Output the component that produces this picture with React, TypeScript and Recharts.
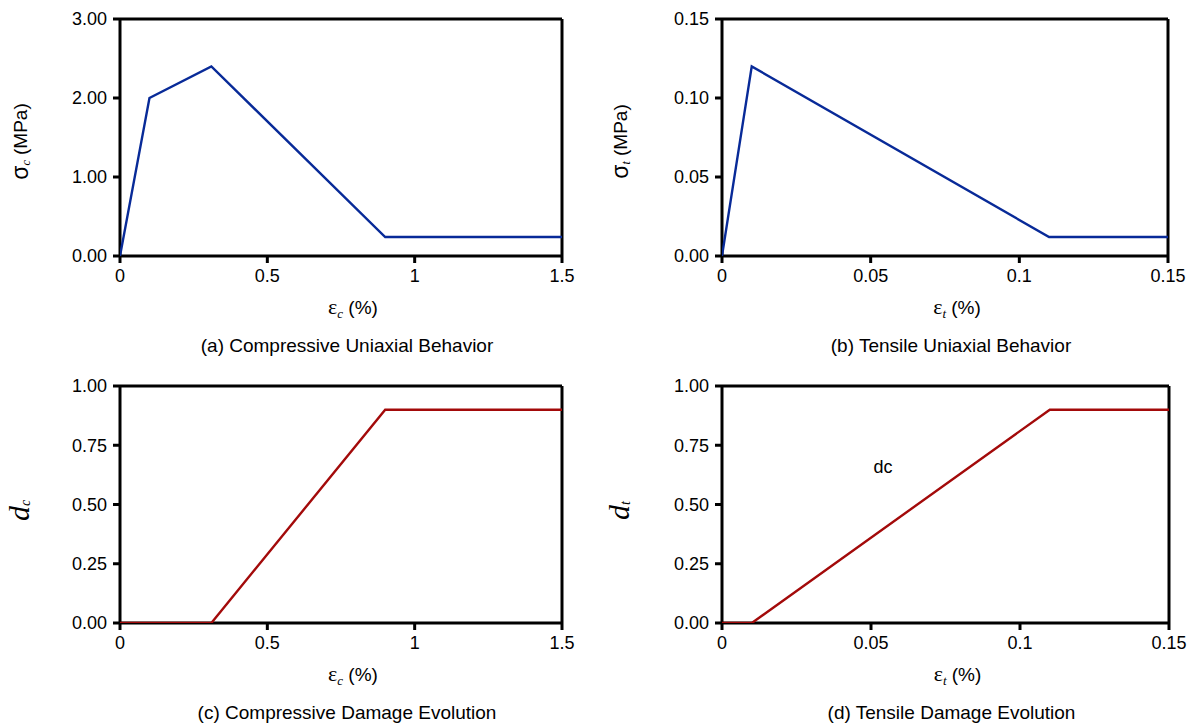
import React from 'react';
import { LineChart, Line, XAxis, YAxis, ReferenceLine, ReferenceDot } from 'recharts';

// (a) compressive stress-strain
const compStrain = [0, 0.1, 0.31, 0.9, 1.5];
const compStress = [0, 2.0, 2.4, 0.24, 0.24];
// (b) tensile stress-strain
const tensStrain = [0, 0.01, 0.11, 0.15];
const tensStress = [0, 0.12, 0.012, 0.012];
// (c) compressive damage
const compDamageStrain = [0, 0.31, 0.9, 1.5];
const compDamage = [0, 0, 0.9, 0.9];
// (d) tensile damage
const tensDamageStrain = [0, 0.01, 0.11, 0.15];
const tensDamage = [0, 0, 0.9, 0.9];

const compXTicks = [0, 0.5, 1, 1.5];
const tensXTicks = [0, 0.05, 0.1, 0.15];
const compStressTicks = [0, 1, 2, 3];
const tensStressTicks = [0, 0.05, 0.1, 0.15];
const damageTicks = [0, 0.25, 0.5, 0.75, 1];

const dcNote = { x: 0.054, y: 0.66, text: 'dc' };

const BLUE = '#082a98';
const RED = '#a30a0a';
const SANS = '"Liberation Sans", Arial, sans-serif';
const SERIF = '"Liberation Serif", "Times New Roman", serif';

// thick black frame and ticks
const css = `
.recharts-cartesian-axis-tick line,
line.recharts-cartesian-axis-tick-line { stroke: #000 !important; stroke-width: 3px !important; }
.recharts-reference-line line,
line.recharts-reference-line-line { stroke: #000 !important; stroke-width: 3px !important; }
.recharts-line path.recharts-curve { stroke-width: 2.4px; }
`;

const zip = (xs: number[], ys: number[]) => xs.map((x, i) => ({ x, y: ys[i] }));

type PanelProps = {
  data: { x: number; y: number }[];
  xTicks: number[];
  yTicks: number[];
  color: string;
  sub: string;
  caption: string;
  stress: boolean;
  left: number;
  top: number;
  width: number;
  height: number;
  yAxisWidth: number;
  marginTop: number;
  marginRight: number;
  xAxisHeight: number;
  note?: { x: number; y: number; text: string };
};

function Panel(p: PanelProps) {
  const xMax = p.xTicks[p.xTicks.length - 1];
  const yMax = p.yTicks[p.yTicks.length - 1];

  const xLabel = (props: any) => {
    const vb = props.viewBox || {};
    const cx = vb.x + vb.width / 2 + 12;
    const y0 = vb.y;
    return (
      <g>
        <text x={cx} y={y0 + 58} textAnchor="middle" fontSize={19} fill="#000" fontFamily={SANS}>
          <tspan fontFamily={SERIF} fontSize={22}>ε</tspan>
          <tspan fontFamily={SERIF} fontStyle="italic" fontSize={13} dy={4}>{p.sub}</tspan>
          <tspan dy={-4}> (%)</tspan>
        </text>
        <text x={cx - 6} y={y0 + 96} textAnchor="middle" fontSize={19} fill="#000" fontFamily={SANS}>
          {p.caption}
        </text>
      </g>
    );
  };

  const yLabel = (props: any) => {
    const vb = props.viewBox || {};
    const cx = vb.x + 22;
    const cy = vb.y + vb.height / 2 + 4;
    if (p.stress) {
      return (
        <text x={cx} y={cy} transform={`rotate(-90 ${cx} ${cy})`} textAnchor="middle" dominantBaseline="middle" fontSize={19} fill="#000" fontFamily={SANS}>
          <tspan fontSize={23}>σ</tspan>
          <tspan fontFamily={SERIF} fontStyle="italic" fontSize={12} dy={5}>{p.sub}</tspan>
          <tspan dy={-5}> (MPa)</tspan>
        </text>
      );
    }
    return (
      <text x={cx - 2} y={cy} transform={`rotate(-90 ${cx} ${cy})`} textAnchor="middle" dominantBaseline="middle" fontSize={30} fill="#000" fontFamily={SERIF} fontStyle="italic">
        <tspan>d</tspan>
        <tspan fontSize={14} dy={5}>{p.sub}</tspan>
      </text>
    );
  };

  return (
    <div style={{ position: 'absolute', left: p.left, top: p.top }}>
      <LineChart
        width={p.width}
        height={p.height}
        data={p.data}
        margin={{ top: p.marginTop, right: p.marginRight, bottom: 0, left: 0 }}
      >
        <XAxis
          dataKey="x"
          type="number"
          domain={[0, xMax]}
          ticks={p.xTicks}
          tickFormatter={(v: number) => String(v)}
          height={p.xAxisHeight}
          axisLine={false}
          tickLine={{ stroke: '#000', strokeWidth: 3 }}
          tickSize={7}
          tickMargin={6}
          tick={{ fill: '#000', fontSize: 18, fontFamily: SANS }}
          allowDataOverflow
          label={{ content: xLabel }}
        />
        <YAxis
          type="number"
          domain={[0, yMax]}
          ticks={p.yTicks}
          tickFormatter={(v: number) => v.toFixed(2)}
          width={p.yAxisWidth}
          axisLine={false}
          tickLine={{ stroke: '#000', strokeWidth: 3 }}
          tickSize={7}
          tickMargin={6}
          tick={{ fill: '#000', fontSize: 18, fontFamily: SANS }}
          allowDataOverflow
          label={{ content: yLabel }}
        />
        <ReferenceLine y={yMax} stroke="#000" strokeWidth={3} />
        <ReferenceLine x={xMax} stroke="#000" strokeWidth={3} />
        <ReferenceLine x={0} stroke="#000" strokeWidth={3} />
        <ReferenceLine y={0} stroke="#000" strokeWidth={3} />
        {p.note && (
          <ReferenceDot
            x={p.note.x}
            y={p.note.y}
            r={0}
            stroke="none"
            fill="none"
            label={{ value: p.note.text, position: 'center', fill: '#000', fontSize: 18, fontFamily: SANS }}
          />
        )}
        <Line type="linear" dataKey="y" stroke={p.color} strokeWidth={2.4} dot={false} isAnimationActive={false} />
      </LineChart>
    </div>
  );
}

export default function App() {
  return (
    <div style={{ position: 'absolute', left: 0, top: 0, width: 1195, height: 723, background: '#fff' }}>
      <style>{css}</style>
      <Panel
        data={zip(compStrain, compStress)}
        xTicks={compXTicks}
        yTicks={compStressTicks}
        color={BLUE}
        sub="c"
        caption="(a) Compressive Uniaxial Behavior"
        stress
        left={0}
        top={0}
        width={600}
        height={370}
        yAxisWidth={120}
        marginTop={19}
        marginRight={38}
        xAxisHeight={114}
      />
      <Panel
        data={zip(tensStrain, tensStress)}
        xTicks={tensXTicks}
        yTicks={tensStressTicks}
        color={BLUE}
        sub="t"
        caption="(b) Tensile Uniaxial Behavior"
        stress
        left={600}
        top={0}
        width={595}
        height={370}
        yAxisWidth={122}
        marginTop={19}
        marginRight={27}
        xAxisHeight={114}
      />
      <Panel
        data={zip(compDamageStrain, compDamage)}
        xTicks={compXTicks}
        yTicks={damageTicks}
        color={RED}
        sub="c"
        caption="(c) Compressive Damage Evolution"
        stress={false}
        left={0}
        top={370}
        width={600}
        height={353}
        yAxisWidth={120}
        marginTop={16}
        marginRight={38}
        xAxisHeight={100}
      />
      <Panel
        data={zip(tensDamageStrain, tensDamage)}
        xTicks={tensXTicks}
        yTicks={damageTicks}
        color={RED}
        sub="t"
        caption="(d) Tensile Damage Evolution"
        stress={false}
        left={600}
        top={370}
        width={595}
        height={353}
        yAxisWidth={122}
        marginTop={16}
        marginRight={26}
        xAxisHeight={100}
        note={dcNote}
      />
    </div>
  );
}
